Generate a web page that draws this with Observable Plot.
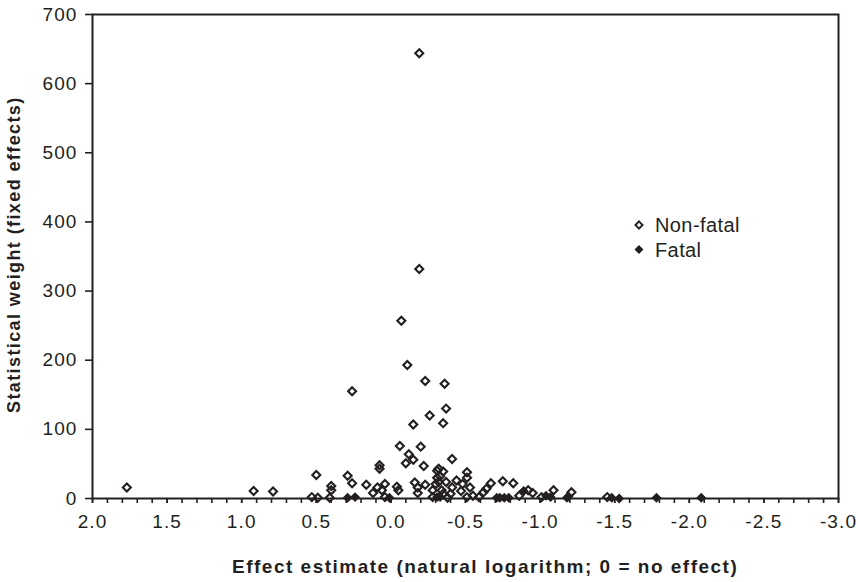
<!DOCTYPE html>
<html>
<head>
<meta charset="utf-8">
<script src="https://cdn.jsdelivr.net/npm/d3@7"></script>
<script src="https://cdn.jsdelivr.net/npm/@observablehq/plot@0.6"></script>
<style>
  html, body { margin: 0; padding: 0; background: #fff; }
  #chart { width: 858px; height: 582px; }
</style>
</head>
<body>
<div id="chart"></div>
<script>
// ---- data ----
const nonFatalX = [1.77, 0.92, 0.79, 0.53, 0.50, 0.49, 0.41, 0.40, 0.40, 0.29, 0.26, 0.26, 0.165, 0.12, 0.09, 0.076, 0.076, 0.06, 0.04, 0.04,
  -0.04, -0.05, -0.06, -0.07, -0.10, -0.11, -0.12, -0.15, -0.15, -0.16, -0.18, -0.18, -0.19, -0.19, -0.20, -0.22, -0.23, -0.23, -0.26, -0.28,
  -0.28, -0.30, -0.31, -0.31, -0.32, -0.35, -0.35, -0.33, -0.32, -0.37, -0.34, -0.35, -0.36, -0.37, -0.40, -0.41, -0.41, -0.38, -0.44, -0.47,
  -0.48, -0.51, -0.51, -0.53, -0.51, -0.55, -0.59, -0.62, -0.64, -0.67, -0.75, -0.82, -0.86, -0.92, -0.95, -1.01, -1.09, -1.21, -1.45];
const nonFatalY = [16, 11, 10, 2, 34, 1, 1, 12, 18, 33, 22, 155, 20, 8, 16, 48, 43, 12, 21, 2,
  17, 12, 76, 257, 51, 193, 64, 56, 107, 23, 16, 8, 644, 332, 75, 47, 20, 170, 120, 12,
  2, 21, 30, 40, 43, 109, 39, 32, 24, 24, 12, 7, 166, 130, 7, 16, 57, 1, 26, 11,
  21, 30, 38, 16, 2, 4, 2, 9, 14, 22, 25, 22, 4, 12, 8, 2, 12, 9, 2];
const fatalX = [0.29, 0.24, 0.01, -0.31, -0.33, -0.71, -0.73, -0.76, -0.79, -0.89, -1.04, -1.07, -1.18, -1.19, -1.48, -1.53, -1.78, -2.08];
const fatalY = [1, 2, 1, 2, 2, 1, 1, 1, 1, 11, 4, 2, 1, 3, 1, 0, 1, 1];
const seriesNames = ["Non-fatal", "Fatal"];
const yTicks = [0, 100, 200, 300, 400, 500, 600, 700];
const xMajorTicks = [2.0, 1.5, 1.0, 0.5, 0.0, -0.5, -1.0, -1.5, -2.0, -2.5, -3.0];
const xMinorTicks = d3.range(0, 51).map(i => +(2 - i * 0.1).toFixed(1));
const xTitle = "Effect estimate (natural logarithm; 0 = no effect)";
const yTitle = "Statistical weight (fixed effects)";

const nonFatal = nonFatalX.map((x, i) => ({x, y: nonFatalY[i]}));
const fatal = fatalX.map((x, i) => ({x, y: fatalY[i]}));

const ink = "#231f20";
const R = 3.6;

const svg = Plot.plot({
  width: 858,
  height: 582,
  marginLeft: 92,
  marginRight: 20,
  marginTop: 14,
  marginBottom: 84,
  style: `font-family: 'Liberation Sans', Arial, sans-serif; font-size: 19px; letter-spacing: 1.1px; color: ${ink}; background: #fff;`,
  x: {domain: [2, -3], label: null},
  y: {domain: [0, 700], label: null},
  marks: [
    Plot.axisY({ticks: yTicks, tickSize: 7, tickPadding: 8, tickFormat: d => String(d), label: null, stroke: ink, strokeWidth: 1.6}),
    Plot.axisX({ticks: xMinorTicks, tickSize: 5, tickFormat: () => "", label: null, stroke: ink, strokeWidth: 1.6}),
    Plot.axisX({ticks: xMajorTicks, tickSize: 5, tickPadding: 11, tickFormat: d => d.toFixed(1), label: null, stroke: ink, strokeWidth: 1.6}),
    Plot.frame({stroke: ink, strokeWidth: 2}),
    Plot.dot(nonFatal, {x: "x", y: "y", symbol: "diamond2", r: R, stroke: ink, strokeWidth: 2.1, fill: "none"}),
    Plot.dot(fatal, {x: "x", y: "y", symbol: "diamond2", r: R, stroke: ink, strokeWidth: 1.4, fill: ink})
  ]
});

const s = d3.select(svg);
// axis titles
s.append("text")
  .attr("x", 232).attr("y", 573)
  .attr("text-anchor", "start")
  .attr("fill", ink)
  .style("font-weight", "bold")
  .style("font-size", "19px")
  .style("letter-spacing", "1.5px")
  .text(xTitle);
s.append("text")
  .attr("transform", "translate(20,413) rotate(-90)")
  .attr("text-anchor", "start")
  .attr("fill", ink)
  .style("font-weight", "bold")
  .style("font-size", "18px")
  .style("letter-spacing", "1.4px")
  .text(yTitle);

// legend
const sym = d3.symbol(d3.symbolDiamond2, Math.PI * 3.2 * 3.2);
const legend = s.append("g");
seriesNames.forEach((name, i) => {
  const cy = 225 + i * 24.5;
  legend.append("path")
    .attr("d", sym())
    .attr("transform", `translate(639,${cy})`)
    .attr("fill", i === 0 ? "none" : ink)
    .attr("stroke", ink)
    .attr("stroke-width", i === 0 ? 1.9 : 1.3);
  legend.append("text")
    .attr("x", 655).attr("y", cy + 7)
    .attr("text-anchor", "start")
    .attr("fill", ink)
    .style("font-size", "20px")
    .style("letter-spacing", "0.4px")
    .text(name);
});

document.getElementById("chart").appendChild(svg);
</script>
</body>
</html>
